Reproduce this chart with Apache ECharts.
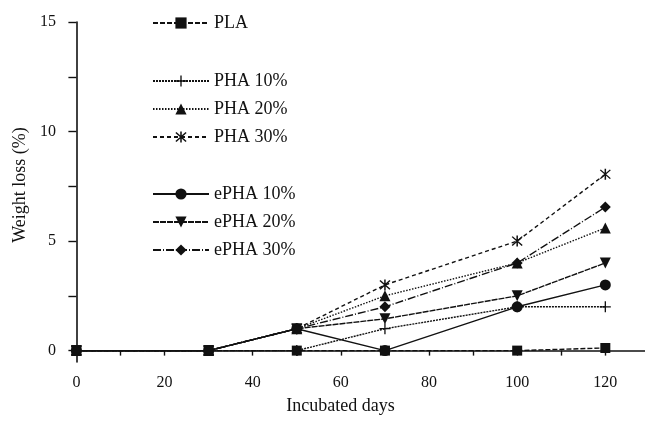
<!DOCTYPE html>
<html>
<head>
<meta charset="utf-8">
<script src="https://cdn.jsdelivr.net/npm/echarts@6/dist/echarts.min.js"></script>
<style>html,body{margin:0;padding:0;background:#fff}#c{width:645px;height:421px}</style>
</head>
<body>
<div id="c"></div>
<script>
var days = [0, 30, 50, 70, 100, 120];
var pla = [0, 0, 0, 0, 0, 0.12];
var pha10 = [0, 0, 0, 1.0, 2.0, 2.0];
var pha20 = [0, 0, 1.0, 2.5, 4.0, 5.6];
var pha30 = [0, 0, 1.0, 3.0, 5.0, 8.05];
var epha10 = [0, 0, 1.0, 0, 2.0, 3.0];
var epha20 = [0, 0, 1.0, 1.45, 2.5, 4.0];
var epha30 = [0, 0, 1.0, 2.0, 4.0, 6.55];
var xTicks = [0, 10, 20, 30, 40, 50, 60, 70, 80, 90, 100, 110, 120];
var xLabels = [0, 20, 40, 60, 80, 100, 120];
var yTicks = [0, 2.5, 5, 7.5, 10, 12.5, 15];
var yLabels = [0, 5, 10, 15];

var plusPath = 'path://M4.4,0 L5.6,0 L5.6,4.4 L10,4.4 L10,5.6 L5.6,5.6 L5.6,10 L4.4,10 L4.4,5.6 L0,5.6 L0,4.4 L4.4,4.4 Z';
var starPath = 'path://M4.4,0 L5.6,0 L5.6,10 L4.4,10 Z M0.6,1.4 L1.4,0.6 L9.4,8.6 L8.6,9.4 Z M8.6,0.6 L9.4,1.4 L1.4,9.4 L0.6,8.6 Z';

function pairs(arr) { return days.map(function (d, i) { return [d, arr[i]]; }); }
var ink = '#111';
function mk(name, arr, symbol, size, dash, rotate) {
  return {
    name: name, type: 'line', data: pairs(arr), symbol: symbol, symbolSize: size,
    symbolRotate: rotate || 0,
    showAllSymbol: true,
    lineStyle: { color: ink, width: 1.4, type: dash },
    itemStyle: { color: ink, borderWidth: 0 },
    emphasis: { disabled: true },
    animation: false
  };
}
var font = 'Liberation Serif';
var legendCommon = {
  orient: 'vertical', left: 147, itemWidth: 56, itemHeight: 14, itemGap: 10,
  textStyle: { fontFamily: font, fontSize: 18, color: ink, lineHeight: 18 },
  selectedMode: false
};
var chart = echarts.init(document.getElementById('c'));
chart.setOption({
  backgroundColor: '#fff',
  animation: false,
  textStyle: { fontFamily: font },
  grid: { left: 72, right: 0, top: 22, bottom: 59 },
  legend: [
    Object.assign({}, legendCommon, { top: 9, data: ['PLA'] }),
    Object.assign({}, legendCommon, { top: 67, data: ['PHA 10%', 'PHA 20%', 'PHA 30%'] }),
    Object.assign({}, legendCommon, { top: 180, data: ['ePHA 10%', 'ePHA 20%', 'ePHA 30%'] })
  ],
  xAxis: {
    type: 'value', min: -1, max: 129,
    name: 'Incubated days', nameLocation: 'middle', nameGap: 35,
    nameTextStyle: { fontFamily: font, fontSize: 18, color: ink, padding: [0, 36, 0, 0] },
    axisLine: { show: true, lineStyle: { color: ink, width: 1.6 } },
    axisTick: { show: true, inside: false, length: 5, lineStyle: { color: ink, width: 1.4 }, customValues: xTicks },
    axisLabel: { fontFamily: font, fontSize: 16, color: ink, margin: 13, customValues: xLabels },
    splitLine: { show: false }
  },
  yAxis: {
    type: 'value', min: -0.52, max: 15,
    name: 'Weight loss (%)', nameLocation: 'middle', nameGap: 42,
    nameTextStyle: { fontFamily: font, fontSize: 18, color: ink, padding: [0, 0, 0, 14] },
    axisLine: { show: true, lineStyle: { color: ink, width: 1.6 } },
    axisTick: { show: true, inside: false, length: 8, lineStyle: { color: ink, width: 1.4 }, customValues: yTicks },
    axisLabel: { fontFamily: font, fontSize: 16, color: ink, margin: 16, customValues: yLabels },
    splitLine: { show: false }
  },
  series: [
    mk('PLA', pla, 'rect', 10, [5, 2]),
    mk('PHA 10%', pha10, plusPath, 11, [2, 1]),
    mk('PHA 20%', pha20, 'triangle', 11, [1.5, 1.5]),
    mk('PHA 30%', pha30, starPath, 11, [4, 3]),
    mk('ePHA 10%', epha10, 'circle', 11, 'solid'),
    mk('ePHA 20%', epha20, 'triangle', 11, [6, 1], 180),
    mk('ePHA 30%', epha30, 'diamond', 11, [8, 2, 1, 2])
  ]
});
</script>
</body>
</html>
